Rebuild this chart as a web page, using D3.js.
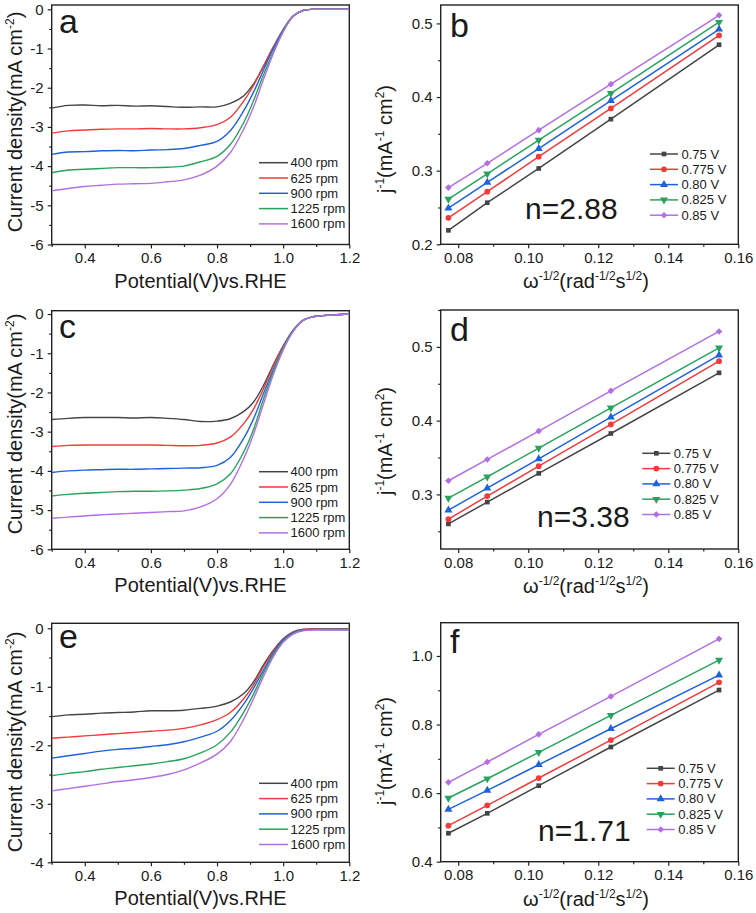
<!DOCTYPE html>
<html>
<head>
<meta charset="utf-8">
<script src="https://cdn.jsdelivr.net/npm/d3@7"></script>
<style>
  body { margin: 0; background: #fff; }
  text { font-family: "Liberation Sans", Arial, sans-serif; fill: #1a1a1a; }
</style>
</head>
<body>
<script>
// ---- LSV data (potential V vs RHE, current density mA cm-2) ----
const potential = [0.30, 0.35, 0.40, 0.45, 0.50, 0.55, 0.60, 0.65, 0.70, 0.75, 0.80, 0.84,
  0.88, 0.91, 0.94, 0.97, 1.00, 1.03, 1.06, 1.09, 1.12, 1.20];
const rpmLabels = ['400 rpm', '625 rpm', '900 rpm', '1225 rpm', '1600 rpm'];

const lsvA = [
  [-2.52, -2.45, -2.44, -2.46, -2.45, -2.47, -2.46, -2.48, -2.50, -2.49, -2.49, -2.40, -2.21, -1.91, -1.47, -1.00, -0.53, -0.18, -0.03, 0, 0, 0],
  [-3.16, -3.10, -3.08, -3.06, -3.05, -3.05, -3.04, -3.05, -3.05, -3.02, -2.94, -2.76, -2.35, -1.95, -1.45, -0.96, -0.52, -0.17, -0.03, 0, 0, 0],
  [-3.70, -3.64, -3.63, -3.61, -3.60, -3.61, -3.59, -3.58, -3.55, -3.47, -3.37, -3.10, -2.60, -2.12, -1.56, -1.00, -0.53, -0.17, -0.03, 0, 0, 0],
  [-4.17, -4.10, -4.08, -4.06, -4.04, -4.04, -4.04, -4.03, -4.00, -3.89, -3.75, -3.45, -2.90, -2.34, -1.68, -1.09, -0.56, -0.18, -0.03, 0, 0, 0],
  [-4.63, -4.57, -4.52, -4.49, -4.46, -4.45, -4.44, -4.40, -4.35, -4.23, -4.00, -3.66, -3.07, -2.50, -1.80, -1.13, -0.58, -0.18, -0.03, 0, 0, 0]
];
const lsvC = [
  [-2.69, -2.66, -2.64, -2.64, -2.64, -2.65, -2.64, -2.66, -2.69, -2.74, -2.73, -2.67, -2.49, -2.25, -1.83, -1.30, -0.82, -0.42, -0.16, -0.07, -0.04, 0],
  [-3.38, -3.35, -3.34, -3.34, -3.34, -3.34, -3.34, -3.35, -3.36, -3.35, -3.29, -3.14, -2.80, -2.43, -1.92, -1.33, -0.82, -0.42, -0.16, -0.07, -0.04, 0],
  [-4.04, -4.00, -3.98, -3.97, -3.96, -3.96, -3.95, -3.94, -3.93, -3.92, -3.86, -3.66, -3.18, -2.68, -2.04, -1.42, -0.86, -0.42, -0.16, -0.07, -0.04, 0],
  [-4.64, -4.60, -4.57, -4.55, -4.53, -4.52, -4.52, -4.51, -4.49, -4.45, -4.33, -4.08, -3.53, -2.95, -2.18, -1.47, -0.87, -0.43, -0.16, -0.07, -0.04, 0],
  [-5.21, -5.18, -5.15, -5.12, -5.10, -5.08, -5.06, -5.04, -5.02, -4.92, -4.71, -4.35, -3.70, -3.07, -2.31, -1.55, -0.92, -0.45, -0.17, -0.07, -0.04, 0]
];
const lsvE = [
  [-1.51, -1.48, -1.47, -1.45, -1.44, -1.43, -1.41, -1.41, -1.40, -1.37, -1.33, -1.26, -1.12, -0.92, -0.63, -0.38, -0.18, -0.06, -0.02, -0.01, -0.01, -0.01],
  [-1.88, -1.86, -1.84, -1.82, -1.80, -1.78, -1.76, -1.74, -1.71, -1.65, -1.56, -1.44, -1.21, -0.97, -0.66, -0.40, -0.19, -0.07, -0.02, -0.01, -0.01, -0.01],
  [-2.22, -2.18, -2.14, -2.10, -2.07, -2.05, -2.02, -1.99, -1.94, -1.86, -1.76, -1.58, -1.30, -1.03, -0.72, -0.43, -0.20, -0.08, -0.03, -0.02, -0.02, -0.02],
  [-2.52, -2.48, -2.45, -2.41, -2.38, -2.35, -2.32, -2.28, -2.23, -2.13, -1.99, -1.78, -1.44, -1.13, -0.77, -0.46, -0.22, -0.09, -0.04, -0.02, -0.02, -0.02],
  [-2.78, -2.74, -2.70, -2.66, -2.62, -2.59, -2.55, -2.50, -2.42, -2.30, -2.15, -1.94, -1.56, -1.21, -0.83, -0.49, -0.24, -0.10, -0.04, -0.03, -0.03, -0.03]
];

// ---- Koutecky-Levich data (omega^-1/2 vs j^-1) ----
const omega = [0.0772, 0.0883, 0.1030, 0.1236, 0.1545];
const voltLabels = ['0.75 V', '0.775 V', '0.80 V', '0.825 V', '0.85 V'];
const klB = [
  [0.219, 0.2565, 0.303, 0.370, 0.471],
  [0.236, 0.2714, 0.319, 0.3845, 0.4836],
  [0.249, 0.284, 0.330, 0.395, 0.492],
  [0.2615, 0.2958, 0.3415, 0.405, 0.5016],
  [0.277, 0.310, 0.355, 0.4175, 0.511]
];
const klD = [
  [0.260, 0.2896, 0.3285, 0.3826, 0.4648],
  [0.2665, 0.2977, 0.3383, 0.3949, 0.4806],
  [0.2787, 0.3085, 0.3482, 0.4047, 0.4888],
  [0.295, 0.3239, 0.3627, 0.4174, 0.4987],
  [0.3185, 0.3474, 0.3858, 0.4404, 0.5209]
];
const klF = [
  [0.483, 0.541, 0.6216, 0.7344, 0.9006],
  [0.505, 0.5644, 0.644, 0.7548, 0.923],
  [0.5528, 0.608, 0.6828, 0.7878, 0.944],
  [0.5857, 0.642, 0.719, 0.8268, 0.988],
  [0.6315, 0.6907, 0.7714, 0.882, 1.05]
];
const electronNumbers = ['n=2.88', 'n=3.38', 'n=1.71'];

const colors = ['#454545', '#f23a3a', '#1f62dd', '#27a35e', '#b36ee6'];

const svg = d3.select('body').append('svg')
  .attr('width', 756).attr('height', 913);

function drawAxes (p, x, y, o) {
  const g = svg.append('g');
  const ax = g.append('g').attr('transform', `translate(0,${p.y1})`);
  ax.append('g').call(d3.axisBottom(x).tickValues(o.xMajor).tickSize(4).tickPadding(4).tickFormat(o.xFmt));
  ax.append('g').call(d3.axisBottom(x).tickValues(o.xMinor).tickSize(2.5).tickFormat(''));
  const ay = g.append('g').attr('transform', `translate(${p.x0},0)`);
  ay.append('g').call(d3.axisLeft(y).tickValues(o.yMajor).tickSize(4).tickPadding(4).tickFormat(o.yFmt));
  ay.append('g').call(d3.axisLeft(y).tickValues(o.yMinor).tickSize(2.5).tickFormat(''));
  g.selectAll('.domain').remove();
  g.selectAll('.tick line').attr('stroke', '#222').attr('stroke-width', 1.2);
  g.selectAll('.tick text').attr('font-size', 15).attr('fill', '#1a1a1a')
    .style('font-family', '"Liberation Sans", Arial, sans-serif');
  g.append('rect')
    .attr('x', p.x0).attr('y', p.y0)
    .attr('width', p.x1 - p.x0).attr('height', p.y1 - p.y0)
    .attr('fill', 'none').attr('stroke', '#222').attr('stroke-width', 1.4);
}

function supText (parent, parts, size) {
  // parts: [text, isSuper]
  parts.forEach(([s, sup], i) => {
    const prevSup = i > 0 && parts[i - 1][1];
    let dy = 0;
    if (sup && !prevSup) dy = -size * 0.4;
    if (!sup && prevSup) dy = size * 0.4;
    parent.append('tspan').attr('font-size', sup ? size * 0.6 : size).attr('dy', dy).text(s);
  });
}

// ---- LSV panels ----
const lsvPanels = [
  { letter: 'a', data: lsvA, x0: 51.7, x1: 349.3, y0: 5, y1: 244.5, ydom: [-6, 0.11], yMajor: d3.range(-6, 0.5, 1), yMinor: d3.range(-5.5, 0, 1),
    legendY: 162.7, letterY: 33.3, titleX: 288.3, titleY: 122 },
  { letter: 'c', data: lsvC, x0: 51.7, x1: 349.3, y0: 310.7, y1: 549.3, ydom: [-6, 0.085], yMajor: d3.range(-6, 0.5, 1), yMinor: d3.range(-5.5, 0, 1),
    legendY: 471.7, letterY: 338, titleX: 591.7, titleY: 424 },
  { letter: 'e', data: lsvE, x0: 51.7, x1: 349.3, y0: 623.3, y1: 862.3, ydom: [-4, 0.085], yMajor: d3.range(-4, 0.5, 1), yMinor: d3.range(-3.5, 0, 1),
    legendY: 783.3, letterY: 648, titleX: 905, titleY: 742 }
];

lsvPanels.forEach(p => {
  const x = d3.scaleLinear().domain([0.3, 1.2]).range([p.x0, p.x1]);
  const y = d3.scaleLinear().domain(p.ydom).range([p.y1, p.y0]);
  drawAxes(p, x, y, {
    xMajor: [0.4, 0.6, 0.8, 1.0, 1.2], xMinor: [0.3, 0.5, 0.7, 0.9, 1.1], xFmt: d3.format('.1f'),
    yMajor: p.yMajor, yMinor: p.yMinor, yFmt: d => String(d)
  });
  const line = d3.line().x((d, i) => x(potential[i])).y(d => y(d)).curve(d3.curveCatmullRom.alpha(0.5));
  const clip = 'clip-' + p.letter;
  svg.append('clipPath').attr('id', clip).append('rect')
    .attr('x', p.x0).attr('y', p.y0).attr('width', p.x1 - p.x0).attr('height', p.y1 - p.y0);
  const g = svg.append('g').attr('clip-path', `url(#${clip})`);
  p.data.forEach((series, k) => {
    g.append('path').attr('d', line(series))
      .attr('fill', 'none').attr('stroke', colors[k]).attr('stroke-width', 1.4);
  });
  // legend
  rpmLabels.forEach((lab, k) => {
    const ly = p.legendY + k * 15.3;
    svg.append('line').attr('x1', 259).attr('x2', 288).attr('y1', ly).attr('y2', ly)
      .attr('stroke', colors[k]).attr('stroke-width', 1.5);
    svg.append('text').attr('x', 290.5).attr('y', ly + 4.5).attr('font-size', 13).text(lab);
  });
  svg.append('text').attr('x', 59).attr('y', p.letterY).attr('font-size', 34).text(p.letter);
  svg.append('text').attr('x', (p.x0 + p.x1) / 2).attr('y', p.titleX)
    .attr('text-anchor', 'middle').attr('font-size', 20).text('Potential(V)vs.RHE');
  const yt = svg.append('text').attr('text-anchor', 'middle')
    .attr('transform', `translate(22,${p.titleY}) rotate(-90)`);
  supText(yt, [['Current density(mA cm', false], ['-2', true], [')', false]], 20);
});

// ---- K-L panels ----
const markers = [
  { type: d3.symbolSquare, size: 22, rot: 0 },
  { type: d3.symbolCircle, size: 26, rot: 0 },
  { type: d3.symbolTriangle, size: 28, rot: 0 },
  { type: d3.symbolTriangle, size: 28, rot: 180 },
  { type: d3.symbolSquare, size: 22, rot: 45 }
];

const klPanels = [
  { letter: 'b', data: klB, n: electronNumbers[0], y0: 5, y1: 244.3, ydom: [0.2, 0.525],
    yMajor: [0.2, 0.3, 0.4, 0.5], yMinor: [0.25, 0.35, 0.45],
    legendX: 650, legendY: 154, letterY: 37.3, nY: 218.5, nX: 525, titleX: 288, titleY: 139 },
  { letter: 'd', data: klD, n: electronNumbers[1], y0: 310, y1: 549, ydom: [0.226, 0.55],
    yMajor: [0.3, 0.4, 0.5], yMinor: [0.25, 0.35, 0.45, 0.55],
    legendX: 642.3, legendY: 453.3, letterY: 340.7, nY: 526.7, nX: 537, titleX: 593, titleY: 441 },
  { letter: 'f', data: klF, n: electronNumbers[2], y0: 622.7, y1: 861.7, ydom: [0.4, 1.097],
    yMajor: [0.4, 0.6, 0.8, 1.0], yMinor: [0.5, 0.7, 0.9],
    legendX: 646.7, legendY: 768.3, letterY: 653.3, nY: 840.7, nX: 538, titleX: 906, titleY: 751 }
];

klPanels.forEach(p => {
  p.x0 = 440.7; p.x1 = 738.3;
  const x = d3.scaleLinear().domain([0.075, 0.16]).range([p.x0, p.x1]);
  const y = d3.scaleLinear().domain(p.ydom).range([p.y1, p.y0]);
  drawAxes(p, x, y, {
    xMajor: [0.08, 0.10, 0.12, 0.14, 0.16], xMinor: [0.09, 0.11, 0.13, 0.15], xFmt: d3.format('.2f'),
    yMajor: p.yMajor, yMinor: p.yMinor, yFmt: d3.format('.1f')
  });
  const line = d3.line().x((d, i) => x(omega[i])).y(d => y(d));
  p.data.forEach((series, k) => {
    svg.append('path').attr('d', line(series))
      .attr('fill', 'none').attr('stroke', colors[k]).attr('stroke-width', 1.5);
    const m = markers[k];
    svg.append('g').selectAll('path').data(series).join('path')
      .attr('d', d3.symbol().type(m.type).size(m.size))
      .attr('transform', (d, i) => `translate(${x(omega[i])},${y(d)}) rotate(${m.rot})`)
      .attr('fill', colors[k]);
  });
  voltLabels.forEach((lab, k) => {
    const ly = p.legendY + k * 15.3;
    svg.append('line').attr('x1', p.legendX).attr('x2', p.legendX + 28).attr('y1', ly).attr('y2', ly)
      .attr('stroke', colors[k]).attr('stroke-width', 1.5);
    const m = markers[k];
    svg.append('path').attr('d', d3.symbol().type(m.type).size(m.size)())
      .attr('transform', `translate(${p.legendX + 14},${ly}) rotate(${m.rot})`)
      .attr('fill', colors[k]);
    svg.append('text').attr('x', p.legendX + 31.5).attr('y', ly + 4.5).attr('font-size', 13).text(lab);
  });
  svg.append('text').attr('x', 450).attr('y', p.letterY).attr('font-size', 34).text(p.letter);
  svg.append('text').attr('x', p.nX).attr('y', p.nY).attr('font-size', 30).text(p.n);
  const xt = svg.append('text').attr('x', 586).attr('y', p.titleX).attr('text-anchor', 'middle');
  supText(xt, [['ω', false], ['-1/2', true], ['(rad', false], ['-1/2', true], ['s', false], ['1/2', true], [')', false]], 20);
  const yt = svg.append('text').attr('text-anchor', 'middle')
    .attr('transform', `translate(392,${p.titleY}) rotate(-90)`);
  supText(yt, [['j', false], ['-1', true], ['(mA', false], ['-1', true], [' cm', false], ['2', true], [')', false]], 20);
});
</script>
</body>
</html>
